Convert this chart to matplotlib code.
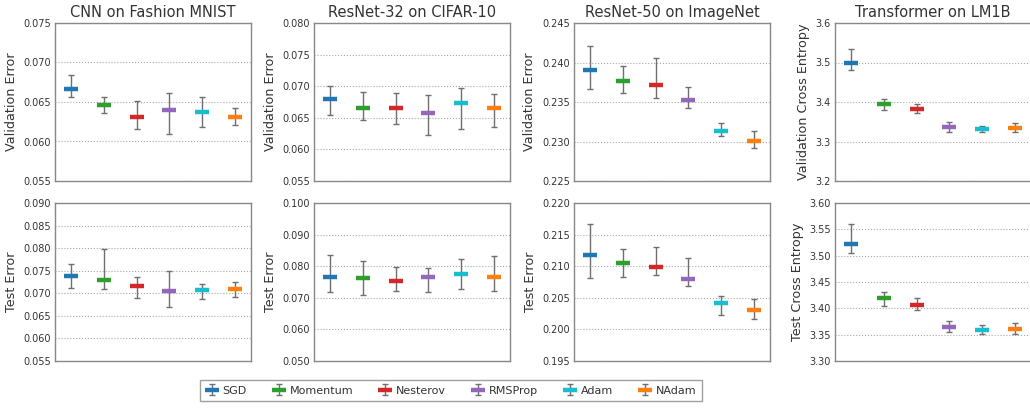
#!/usr/bin/env python3
"""Optimizer comparison: validation / test metrics per workload, mean with min-max bars."""

import matplotlib
matplotlib.use("Agg")
import matplotlib.pyplot as plt
from matplotlib.ticker import FormatStrFormatter

# --------------------------------------------------------------------------- #
# Data                                                  #
# --------------------------------------------------------------------------- #
OPTIMIZERS = ["SGD", "Momentum", "Nesterov", "RMSProp", "Adam", "NAdam"]
COLORS     = ["#1f77b4", "#2ca02c", "#d62728", "#9467bd", "#17becf", "#ff7f0e"]

TITLES = ["CNN on Fashion MNIST", "ResNet-32 on CIFAR-10",
          "ResNet-50 on ImageNet", "Transformer on LM1B"]
VAL_LABELS  = ["Validation Error"] * 3 + ["Validation Cross Entropy"]
TEST_LABELS = ["Test Error"] * 3 + ["Test Cross Entropy"]

# CNN on Fashion MNIST
cnn_val_mid  = [0.0667, 0.0646, 0.0631, 0.0640, 0.0637, 0.0631]
cnn_val_lo   = [0.0656, 0.0636, 0.0616, 0.0610, 0.0618, 0.0621]
cnn_val_hi   = [0.0684, 0.0656, 0.0651, 0.0662, 0.0656, 0.0642]
cnn_test_mid = [0.0739, 0.0730, 0.0717, 0.0705, 0.0707, 0.0709]
cnn_test_lo  = [0.0712, 0.0709, 0.0690, 0.0670, 0.0688, 0.0692]
cnn_test_hi  = [0.0764, 0.0797, 0.0737, 0.0749, 0.0721, 0.0726]

# ResNet-32 on CIFAR-10
r32_val_mid  = [0.0680, 0.0665, 0.0665, 0.0658, 0.0673, 0.0666]
r32_val_lo   = [0.0654, 0.0646, 0.0640, 0.0622, 0.0632, 0.0635]
r32_val_hi   = [0.0701, 0.0691, 0.0689, 0.0686, 0.0697, 0.0688]
r32_test_mid = [0.0765, 0.0762, 0.0752, 0.0767, 0.0776, 0.0767]
r32_test_lo  = [0.0717, 0.0710, 0.0720, 0.0717, 0.0728, 0.0721]
r32_test_hi  = [0.0836, 0.0817, 0.0797, 0.0795, 0.0823, 0.0832]

# ResNet-50 on ImageNet
r50_val_mid  = [0.2390, 0.2376, 0.2371, 0.2352, 0.2313, 0.2301]
r50_val_lo   = [0.2366, 0.2361, 0.2355, 0.2342, 0.2307, 0.2292]
r50_val_hi   = [0.2421, 0.2395, 0.2406, 0.2369, 0.2323, 0.2313]
r50_test_mid = [0.2117, 0.2105, 0.2099, 0.2080, 0.2042, 0.2031]
r50_test_lo  = [0.2081, 0.2083, 0.2086, 0.2068, 0.2022, 0.2016]
r50_test_hi  = [0.2167, 0.2128, 0.2130, 0.2113, 0.2053, 0.2048]

# Transformer on LM1B
lm_val_mid  = [3.500, 3.395, 3.383, 3.337, 3.332, 3.335]
lm_val_lo   = [3.481, 3.380, 3.373, 3.325, 3.325, 3.324]
lm_val_hi   = [3.534, 3.407, 3.395, 3.350, 3.340, 3.346]
lm_test_mid = [3.523, 3.419, 3.406, 3.365, 3.358, 3.361]
lm_test_lo  = [3.505, 3.405, 3.396, 3.356, 3.351, 3.351]
lm_test_hi  = [3.560, 3.431, 3.420, 3.376, 3.368, 3.373]

VAL_YLIM  = [(0.055, 0.075), (0.055, 0.080), (0.225, 0.245), (3.2, 3.6)]
TEST_YLIM = [(0.055, 0.090), (0.050, 0.100), (0.195, 0.220), (3.30, 3.60)]
VAL_STEP  = [0.005, 0.005, 0.005, 0.1]
TEST_STEP = [0.005, 0.010, 0.005, 0.05]
VAL_FMT   = ["%.3f", "%.3f", "%.3f", "%.1f"]
TEST_FMT  = ["%.3f", "%.3f", "%.3f", "%.2f"]

VAL  = [(cnn_val_mid, cnn_val_lo, cnn_val_hi), (r32_val_mid, r32_val_lo, r32_val_hi),
        (r50_val_mid, r50_val_lo, r50_val_hi), (lm_val_mid, lm_val_lo, lm_val_hi)]
TEST = [(cnn_test_mid, cnn_test_lo, cnn_test_hi), (r32_test_mid, r32_test_lo, r32_test_hi),
        (r50_test_mid, r50_test_lo, r50_test_hi), (lm_test_mid, lm_test_lo, lm_test_hi)]

TEXT = "#333333"
plt.rcParams.update({
    "font.family": "DejaVu Sans",
    "text.color": TEXT,
    "axes.labelcolor": TEXT,
    "xtick.color": TEXT,
    "ytick.color": TEXT,
})


# --------------------------------------------------------------------------- #
def _panel(ax, series, ylim, step, fmt, ylabel, title=None):
    mid, lo, hi = series
    handles = []
    for i, (m, l, h, c) in enumerate(zip(mid, lo, hi, COLORS)):
        eb = ax.errorbar(i, m, yerr=[[m - l], [h - m]], fmt="none",
                         ecolor="#6f6f6f", elinewidth=1.0,
                         capsize=2, capthick=1.0)
        ln, = ax.plot(i, m, marker="_", linestyle="none", color=c,
                      ms=10.5, mew=3.2)
        handles.append((eb, ln))
    ax.set_xlim(-0.5, 5.5)
    ax.set_ylim(*ylim)
    n = int(round((ylim[1] - ylim[0]) / step))
    ax.set_yticks([ylim[0] + k * step for k in range(n + 1)])
    ax.yaxis.set_major_formatter(FormatStrFormatter(fmt))
    ax.set_xticks([])
    ax.tick_params(axis="y", length=0, pad=3, labelsize=7)
    ax.grid(axis="y", linestyle=":", color="#aaaaaa", linewidth=0.8)
    ax.set_axisbelow(True)
    for sp in ax.spines.values():
        sp.set_color("#888888")
        sp.set_linewidth(1.0)
    ax.set_ylabel(ylabel, fontsize=9.2, labelpad=4)
    if title:
        ax.set_title(title, fontsize=10.5, pad=4)
    return handles


def main():
    W, H = 1030, 408
    fig = plt.figure(figsize=(W / 100, H / 100), dpi=100)
    lefts = [55, 314, 574, 835]
    aw = 196
    rows = [(23, 181), (203, 361)]

    handles = None
    for j in range(4):
        top, bot = rows[0]
        ax = fig.add_axes([lefts[j] / W, 1 - bot / H, aw / W, (bot - top) / H])
        hs = _panel(ax, VAL[j], VAL_YLIM[j], VAL_STEP[j], VAL_FMT[j],
                    VAL_LABELS[j], TITLES[j])
        if handles is None:
            handles = hs
        top, bot = rows[1]
        ax = fig.add_axes([lefts[j] / W, 1 - bot / H, aw / W, (bot - top) / H])
        _panel(ax, TEST[j], TEST_YLIM[j], TEST_STEP[j], TEST_FMT[j], TEST_LABELS[j])

    leg = fig.legend(handles, OPTIMIZERS, loc="center", ncol=6,
                     bbox_to_anchor=(451 / W, 1 - 390.5 / H), fontsize=8,
                     frameon=True, fancybox=False, handlelength=1.1,
                     columnspacing=2.3, handletextpad=0.45, borderpad=0.5)
    leg.get_frame().set_edgecolor("#888888")
    leg.get_frame().set_linewidth(1.0)

    fig.savefig("out.png", dpi=100)


if __name__ == "__main__":
    main()
